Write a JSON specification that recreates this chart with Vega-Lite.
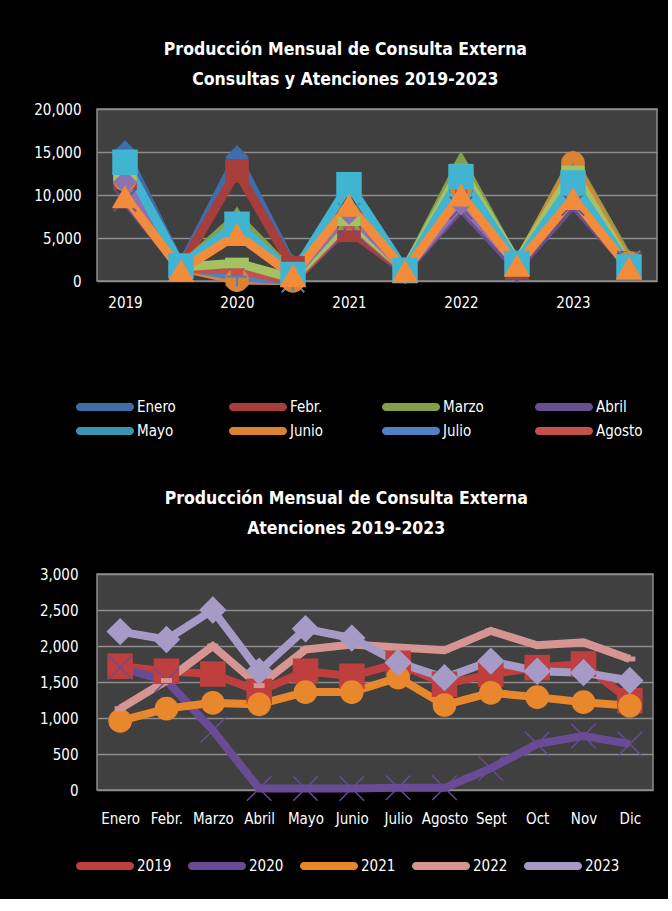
{
  "$schema": "https://vega.github.io/schema/vega-lite/v6.json",
  "background": "#000000",
  "padding": {"left": 33, "top": 39, "right": 10, "bottom": 24},
  "datasets": {
    "d": [
      {"mes":"Enero","anio":"2019","tipo":"C","periodo":"2019 C","valor":15000},
      {"mes":"Enero","anio":"2019","tipo":"A","periodo":"2019 A","valor":1720},
      {"mes":"Enero","anio":"2020","tipo":"C","periodo":"2020 C","valor":14400},
      {"mes":"Enero","anio":"2020","tipo":"A","periodo":"2020 A","valor":1700},
      {"mes":"Enero","anio":"2021","tipo":"C","periodo":"2021 C","valor":7500},
      {"mes":"Enero","anio":"2021","tipo":"A","periodo":"2021 A","valor":960},
      {"mes":"Enero","anio":"2022","tipo":"C","periodo":"2022 C","valor":12500},
      {"mes":"Enero","anio":"2022","tipo":"A","periodo":"2022 A","valor":1130},
      {"mes":"Enero","anio":"2023","tipo":"C","periodo":"2023 C","valor":12000},
      {"mes":"Enero","anio":"2023","tipo":"A","periodo":"2023 A","valor":2200},

      {"mes":"Febr.","anio":"2019","tipo":"C","periodo":"2019 C","valor":12000},
      {"mes":"Febr.","anio":"2019","tipo":"A","periodo":"2019 A","valor":1650},
      {"mes":"Febr.","anio":"2020","tipo":"C","periodo":"2020 C","valor":12800},
      {"mes":"Febr.","anio":"2020","tipo":"A","periodo":"2020 A","valor":1520},
      {"mes":"Febr.","anio":"2021","tipo":"C","periodo":"2021 C","valor":5900},
      {"mes":"Febr.","anio":"2021","tipo":"A","periodo":"2021 A","valor":1130},
      {"mes":"Febr.","anio":"2022","tipo":"C","periodo":"2022 C","valor":11800},
      {"mes":"Febr.","anio":"2022","tipo":"A","periodo":"2022 A","valor":1520},
      {"mes":"Febr.","anio":"2023","tipo":"C","periodo":"2023 C","valor":11500},
      {"mes":"Febr.","anio":"2023","tipo":"A","periodo":"2023 A","valor":2090},

      {"mes":"Marzo","anio":"2019","tipo":"C","periodo":"2019 C","valor":12500},
      {"mes":"Marzo","anio":"2019","tipo":"A","periodo":"2019 A","valor":1610},
      {"mes":"Marzo","anio":"2020","tipo":"C","periodo":"2020 C","valor":7500},
      {"mes":"Marzo","anio":"2020","tipo":"A","periodo":"2020 A","valor":830},
      {"mes":"Marzo","anio":"2021","tipo":"C","periodo":"2021 C","valor":7100},
      {"mes":"Marzo","anio":"2021","tipo":"A","periodo":"2021 A","valor":1210},
      {"mes":"Marzo","anio":"2022","tipo":"C","periodo":"2022 C","valor":13900},
      {"mes":"Marzo","anio":"2022","tipo":"A","periodo":"2022 A","valor":2000},
      {"mes":"Marzo","anio":"2023","tipo":"C","periodo":"2023 C","valor":14000},
      {"mes":"Marzo","anio":"2023","tipo":"A","periodo":"2023 A","valor":2500},

      {"mes":"Abril","anio":"2019","tipo":"C","periodo":"2019 C","valor":9400},
      {"mes":"Abril","anio":"2019","tipo":"A","periodo":"2019 A","valor":1370},
      {"mes":"Abril","anio":"2020","tipo":"C","periodo":"2020 C","valor":700},
      {"mes":"Abril","anio":"2020","tipo":"A","periodo":"2020 A","valor":20},
      {"mes":"Abril","anio":"2021","tipo":"C","periodo":"2021 C","valor":6500},
      {"mes":"Abril","anio":"2021","tipo":"A","periodo":"2021 A","valor":1190},
      {"mes":"Abril","anio":"2022","tipo":"C","periodo":"2022 C","valor":8500},
      {"mes":"Abril","anio":"2022","tipo":"A","periodo":"2022 A","valor":1450},
      {"mes":"Abril","anio":"2023","tipo":"C","periodo":"2023 C","valor":8900},
      {"mes":"Abril","anio":"2023","tipo":"A","periodo":"2023 A","valor":1650},

      {"mes":"Mayo","anio":"2019","tipo":"C","periodo":"2019 C","valor":13000},
      {"mes":"Mayo","anio":"2019","tipo":"A","periodo":"2019 A","valor":1650},
      {"mes":"Mayo","anio":"2020","tipo":"C","periodo":"2020 C","valor":800},
      {"mes":"Mayo","anio":"2020","tipo":"A","periodo":"2020 A","valor":20},
      {"mes":"Mayo","anio":"2021","tipo":"C","periodo":"2021 C","valor":7800},
      {"mes":"Mayo","anio":"2021","tipo":"A","periodo":"2021 A","valor":1360},
      {"mes":"Mayo","anio":"2022","tipo":"C","periodo":"2022 C","valor":11500},
      {"mes":"Mayo","anio":"2022","tipo":"A","periodo":"2022 A","valor":1950},
      {"mes":"Mayo","anio":"2023","tipo":"C","periodo":"2023 C","valor":11200},
      {"mes":"Mayo","anio":"2023","tipo":"A","periodo":"2023 A","valor":2240},

      {"mes":"Junio","anio":"2019","tipo":"C","periodo":"2019 C","valor":11800},
      {"mes":"Junio","anio":"2019","tipo":"A","periodo":"2019 A","valor":1580},
      {"mes":"Junio","anio":"2020","tipo":"C","periodo":"2020 C","valor":100},
      {"mes":"Junio","anio":"2020","tipo":"A","periodo":"2020 A","valor":20},
      {"mes":"Junio","anio":"2021","tipo":"C","periodo":"2021 C","valor":7600},
      {"mes":"Junio","anio":"2021","tipo":"A","periodo":"2021 A","valor":1360},
      {"mes":"Junio","anio":"2022","tipo":"C","periodo":"2022 C","valor":11000},
      {"mes":"Junio","anio":"2022","tipo":"A","periodo":"2022 A","valor":2020},
      {"mes":"Junio","anio":"2023","tipo":"C","periodo":"2023 C","valor":13700},
      {"mes":"Junio","anio":"2023","tipo":"A","periodo":"2023 A","valor":2110},

      {"mes":"Julio","anio":"2019","tipo":"C","periodo":"2019 C","valor":12800},
      {"mes":"Julio","anio":"2019","tipo":"A","periodo":"2019 A","valor":1760},
      {"mes":"Julio","anio":"2020","tipo":"C","periodo":"2020 C","valor":500},
      {"mes":"Julio","anio":"2020","tipo":"A","periodo":"2020 A","valor":30},
      {"mes":"Julio","anio":"2021","tipo":"C","periodo":"2021 C","valor":7300},
      {"mes":"Julio","anio":"2021","tipo":"A","periodo":"2021 A","valor":1560},
      {"mes":"Julio","anio":"2022","tipo":"C","periodo":"2022 C","valor":12000},
      {"mes":"Julio","anio":"2022","tipo":"A","periodo":"2022 A","valor":1980},
      {"mes":"Julio","anio":"2023","tipo":"C","periodo":"2023 C","valor":12500},
      {"mes":"Julio","anio":"2023","tipo":"A","periodo":"2023 A","valor":1770},

      {"mes":"Agosto","anio":"2019","tipo":"C","periodo":"2019 C","valor":11800},
      {"mes":"Agosto","anio":"2019","tipo":"A","periodo":"2019 A","valor":1470},
      {"mes":"Agosto","anio":"2020","tipo":"C","periodo":"2020 C","valor":1300},
      {"mes":"Agosto","anio":"2020","tipo":"A","periodo":"2020 A","valor":30},
      {"mes":"Agosto","anio":"2021","tipo":"C","periodo":"2021 C","valor":6800},
      {"mes":"Agosto","anio":"2021","tipo":"A","periodo":"2021 A","valor":1180},
      {"mes":"Agosto","anio":"2022","tipo":"C","periodo":"2022 C","valor":10500},
      {"mes":"Agosto","anio":"2022","tipo":"A","periodo":"2022 A","valor":1940},
      {"mes":"Agosto","anio":"2023","tipo":"C","periodo":"2023 C","valor":11000},
      {"mes":"Agosto","anio":"2023","tipo":"A","periodo":"2023 A","valor":1560},

      {"mes":"Sept","anio":"2019","tipo":"C","periodo":"2019 C","valor":12200},
      {"mes":"Sept","anio":"2019","tipo":"A","periodo":"2019 A","valor":1610},
      {"mes":"Sept","anio":"2020","tipo":"C","periodo":"2020 C","valor":2100},
      {"mes":"Sept","anio":"2020","tipo":"A","periodo":"2020 A","valor":300},
      {"mes":"Sept","anio":"2021","tipo":"C","periodo":"2021 C","valor":7000},
      {"mes":"Sept","anio":"2021","tipo":"A","periodo":"2021 A","valor":1350},
      {"mes":"Sept","anio":"2022","tipo":"C","periodo":"2022 C","valor":13000},
      {"mes":"Sept","anio":"2022","tipo":"A","periodo":"2022 A","valor":2210},
      {"mes":"Sept","anio":"2023","tipo":"C","periodo":"2023 C","valor":12800},
      {"mes":"Sept","anio":"2023","tipo":"A","periodo":"2023 A","valor":1790},

      {"mes":"Oct","anio":"2019","tipo":"C","periodo":"2019 C","valor":11500},
      {"mes":"Oct","anio":"2019","tipo":"A","periodo":"2019 A","valor":1700},
      {"mes":"Oct","anio":"2020","tipo":"C","periodo":"2020 C","valor":5800},
      {"mes":"Oct","anio":"2020","tipo":"A","periodo":"2020 A","valor":640},
      {"mes":"Oct","anio":"2021","tipo":"C","periodo":"2021 C","valor":7900},
      {"mes":"Oct","anio":"2021","tipo":"A","periodo":"2021 A","valor":1290},
      {"mes":"Oct","anio":"2022","tipo":"C","periodo":"2022 C","valor":9000},
      {"mes":"Oct","anio":"2022","tipo":"A","periodo":"2022 A","valor":2010},
      {"mes":"Oct","anio":"2023","tipo":"C","periodo":"2023 C","valor":10500},
      {"mes":"Oct","anio":"2023","tipo":"A","periodo":"2023 A","valor":1650},

      {"mes":"Nov","anio":"2019","tipo":"C","periodo":"2019 C","valor":13800},
      {"mes":"Nov","anio":"2019","tipo":"A","periodo":"2019 A","valor":1750},
      {"mes":"Nov","anio":"2020","tipo":"C","periodo":"2020 C","valor":6600},
      {"mes":"Nov","anio":"2020","tipo":"A","periodo":"2020 A","valor":750},
      {"mes":"Nov","anio":"2021","tipo":"C","periodo":"2021 C","valor":11200},
      {"mes":"Nov","anio":"2021","tipo":"A","periodo":"2021 A","valor":1220},
      {"mes":"Nov","anio":"2022","tipo":"C","periodo":"2022 C","valor":12100},
      {"mes":"Nov","anio":"2022","tipo":"A","periodo":"2022 A","valor":2050},
      {"mes":"Nov","anio":"2023","tipo":"C","periodo":"2023 C","valor":11400},
      {"mes":"Nov","anio":"2023","tipo":"A","periodo":"2023 A","valor":1630},

      {"mes":"Dic","anio":"2019","tipo":"C","periodo":"2019 C","valor":9800},
      {"mes":"Dic","anio":"2019","tipo":"A","periodo":"2019 A","valor":1240},
      {"mes":"Dic","anio":"2020","tipo":"C","periodo":"2020 C","valor":5400},
      {"mes":"Dic","anio":"2020","tipo":"A","periodo":"2020 A","valor":640},
      {"mes":"Dic","anio":"2021","tipo":"C","periodo":"2021 C","valor":8800},
      {"mes":"Dic","anio":"2021","tipo":"A","periodo":"2021 A","valor":1170},
      {"mes":"Dic","anio":"2022","tipo":"C","periodo":"2022 C","valor":10000},
      {"mes":"Dic","anio":"2022","tipo":"A","periodo":"2022 A","valor":1820},
      {"mes":"Dic","anio":"2023","tipo":"C","periodo":"2023 C","valor":9600},
      {"mes":"Dic","anio":"2023","tipo":"A","periodo":"2023 A","valor":1520}
    ]
  },
  "spacing": 48,
  "resolve": {
    "scale": {"color": "independent"},
    "legend": {"color": "independent"}
  },
  "vconcat": [
    {
      "width": 560,
      "height": 172,
      "data": {"name": "d"},
      "title": {
        "text": ["Producción Mensual de Consulta Externa", "Consultas y Atenciones 2019-2023"],
        "frame": "bounds",
        "anchor": "middle",
        "offset": 14
      },
      "encoding": {
        "x": {
          "field": "periodo",
          "type": "ordinal",
          "sort": ["2019 C","2019 A","2020 C","2020 A","2021 C","2021 A","2022 C","2022 A","2023 C","2023 A"],
          "scale": {"type": "point", "padding": 0.5},
          "axis": {"labelExpr": "substring(datum.value, 5, 6) == 'C' ? substring(datum.value, 0, 4) : ''", "labelAngle": 0, "labelPadding": 14, "grid": false}
        },
        "y": {
          "field": "valor",
          "type": "quantitative",
          "scale": {"domain": [0, 20000]},
          "axis": {"values": [0, 5000, 10000, 15000, 20000], "format": ",d", "labelPadding": 16}
        },
        "color": {
          "field": "mes",
          "type": "nominal",
          "scale": {
            "domain": ["Enero","Febr.","Marzo","Abril","Mayo","Junio","Julio","Agosto","Sept","Oct","Nov","Dic"],
            "range": ["#3E6DAA","#A83E3B","#82A04A","#6A4F90","#3897AE","#DC8233","#4F81C4","#C4504D","#A4C262","#8C72B0","#41B4D2","#F28C3A"]
          },
          "legend": {
            "values": ["Enero","Febr.","Marzo","Abril","Mayo","Junio","Julio","Agosto"],
            "orient": "bottom",
            "direction": "horizontal",
            "columns": 4,
            "gridAlign": "all",
            "columnPadding": 45,
            "rowPadding": 8,
            "offset": 89,
            "symbolType": "M-3.125,-0.5L3.125,-0.5A0.5,0.5,0,0,1,3.125,0.5L-3.125,0.5A0.5,0.5,0,0,1,-3.125,-0.5Z",
            "symbolSize": 256,
            "symbolStrokeWidth": 0,
            "labelOffset": 24,
            "title": null
          }
        }
      },
      "layer": [
        {"mark": {"type": "line", "strokeWidth": 9}},
        {
          "mark": {"type": "point", "filled": true, "opacity": 1},
          "encoding": {
            "shape": {
              "condition": [
                {"test": "datum.mes == 'Enero' || datum.mes == 'Oct'", "value": "diamond"},
                {"test": "datum.mes == 'Marzo' || datum.mes == 'Dic'", "value": "triangle-up"},
                {"test": "datum.mes == 'Abril' || datum.mes == 'Mayo'", "value": "M-1,-0.9L-0.9,-1L0,-0.1L0.9,-1L1,-0.9L0.1,0L1,0.9L0.9,1L0,0.1L-0.9,1L-1,0.9L-0.1,0Z"},
                {"test": "datum.mes == 'Junio'", "value": "circle"},
                {"test": "datum.mes == 'Julio'", "value": "M-1,-0.1L1,-0.1L1,0.1L-1,0.1ZM-0.1,-1L0.1,-1L0.1,1L-0.1,1Z"},
                {"test": "datum.mes == 'Sept'", "value": "M-1,-0.45L1,-0.45L1,0.45L-1,0.45Z"}
              ],
              "value": "square"
            },
            "size": {
              "condition": [
                {"test": "datum.mes == 'Agosto'", "value": 150},
                {"test": "datum.mes == 'Julio'", "value": 400},
                {"test": "datum.mes == 'Dic'", "value": 700},
                {"test": "datum.mes == 'Nov'", "value": 650}
              ],
              "value": 560
            }
          }
        }
      ]
    },
    {
      "width": 556,
      "height": 216,
      "data": {"name": "d"},
      "transform": [{"filter": "datum.tipo == 'A'"}],
      "title": {
        "text": ["Producción Mensual de Consulta Externa", "Atenciones 2019-2023"],
        "frame": "bounds",
        "anchor": "middle",
        "offset": 30
      },
      "encoding": {
        "x": {
          "field": "mes",
          "type": "ordinal",
          "sort": ["Enero","Febr.","Marzo","Abril","Mayo","Junio","Julio","Agosto","Sept","Oct","Nov","Dic"],
          "scale": {"type": "point", "padding": 0.5},
          "axis": {"labelAngle": 0, "labelPadding": 21, "grid": false}
        },
        "y": {
          "field": "valor",
          "type": "quantitative",
          "scale": {"domain": [0, 3000]},
          "axis": {"values": [0, 500, 1000, 1500, 2000, 2500, 3000], "format": ",d", "labelPadding": 19}
        },
        "color": {
          "field": "anio",
          "type": "nominal",
          "scale": {
            "domain": ["2019","2020","2021","2022","2023"],
            "range": ["#BE3F3E","#6A4B96","#E8872C","#D69592","#A69BC7"]
          },
          "legend": {
            "orient": "bottom",
            "direction": "horizontal",
            "columns": 5,
            "columnPadding": 16,
            "offset": 32,
            "symbolType": "M-3.125,-0.5L3.125,-0.5A0.5,0.5,0,0,1,3.125,0.5L-3.125,0.5A0.5,0.5,0,0,1,-3.125,-0.5Z",
            "symbolSize": 256,
            "symbolStrokeWidth": 0,
            "labelOffset": 24,
            "title": null
          }
        }
      },
      "layer": [
        {"mark": {"type": "line", "strokeWidth": 8}},
        {
          "mark": {"type": "point", "filled": true, "opacity": 1},
          "encoding": {
            "shape": {
              "condition": [
                {"test": "datum.anio == '2020'", "value": "M-1,-0.92L-0.92,-1L0,-0.08L0.92,-1L1,-0.92L0.08,0L1,0.92L0.92,1L0,0.08L-0.92,1L-1,0.92L-0.08,0Z"},
                {"test": "datum.anio == '2021'", "value": "circle"},
                {"test": "datum.anio == '2022'", "value": "M-1,-0.45L1,-0.45L1,0.45L-1,0.45Z"},
                {"test": "datum.anio == '2023'", "value": "diamond"}
              ],
              "value": "square"
            },
            "size": {
              "condition": [
                {"test": "datum.anio == '2021'", "value": 560},
                {"test": "datum.anio == '2022'", "value": 120},
                {"test": "datum.anio == '2023'", "value": 750}
              ],
              "value": 650
            }
          }
        }
      ]
    }
  ],
  "config": {
    "font": "DejaVu Sans Condensed, sans-serif",
    "view": {"fill": "#404040", "stroke": "#8c8c8c", "strokeWidth": 1.5},
    "axis": {
      "labelColor": "#ffffff",
      "labelFont": "DejaVu Sans Condensed, sans-serif",
      "labelFontSize": 15,
      "domain": false,
      "ticks": false,
      "title": null,
      "gridColor": "#8c8c8c",
      "gridWidth": 1.5,
      "gridOpacity": 1
    },
    "legend": {
      "labelColor": "#ffffff",
      "labelFont": "DejaVu Sans Condensed, sans-serif",
      "labelFontSize": 15
    },
    "title": {
      "color": "#ffffff",
      "font": "DejaVu Sans Condensed, sans-serif",
      "fontSize": 17.5,
      "fontWeight": "bold",
      "lineHeight": 30
    }
  }
}
